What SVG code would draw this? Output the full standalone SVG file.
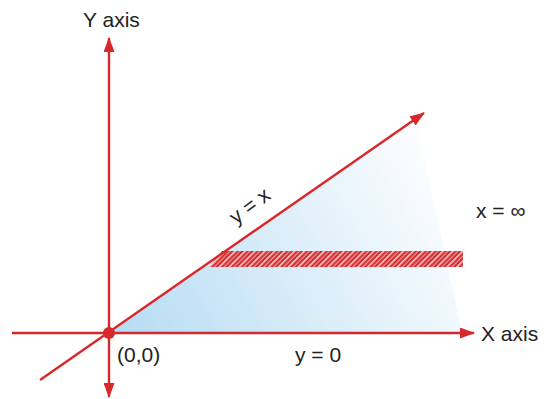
<svg xmlns="http://www.w3.org/2000/svg" width="549" height="399" viewBox="0 0 549 399">
<style>
.ax{stroke:#d7282b;stroke-width:2.4;fill:none}
.t{font-family:"Liberation Sans",Arial,sans-serif;font-size:21px;fill:#222}
</style>
<defs>
<marker id="ah" viewBox="0 0 15 11" refX="14" refY="5.5" markerWidth="15" markerHeight="11" markerUnits="userSpaceOnUse" orient="auto">
<path d="M0,0 L15,5.5 L0,11 Z" fill="#d7282b"/>
</marker>
<linearGradient id="g" x1="109" y1="333" x2="440" y2="140" gradientUnits="userSpaceOnUse">
<stop offset="0" stop-color="#b5dbf3"/>
<stop offset="1" stop-color="#ffffff"/>
</linearGradient>
<pattern id="h" width="7" height="7" patternUnits="userSpaceOnUse" patternTransform="rotate(45)">
<rect width="7" height="7" fill="#d7282b"/>
<rect x="0" y="0" width="1.6" height="7" fill="#f6d6d6"/>
<rect x="3.8" y="0" width="1" height="7" fill="#efb5b5"/>
</pattern>
</defs>
<g id="region">
<polygon points="109,333 416,120 462,333" fill="url(#g)"/>
</g>
<g id="band">
<polygon points="222,251 463,251 463,267 209,267" fill="url(#h)"/>
</g>
<g id="connectors">
<line class="ax" x1="12" y1="333" x2="474" y2="333" marker-end="url(#ah)"/>
<line class="ax" x1="109" y1="333" x2="109" y2="38" marker-end="url(#ah)"/>
<line class="ax" x1="109" y1="333" x2="109" y2="397" marker-end="url(#ah)"/>
<line class="ax" x1="40" y1="380" x2="424" y2="113" marker-end="url(#ah)"/>
</g>
<g id="origin">
<circle cx="109" cy="333" r="6" fill="#d7282b"/>
<text class="t" x="117" y="362">(0,0)</text>
</g>
<g id="labels">
<text class="t" x="83" y="27">Y axis</text>
<text class="t" x="481" y="341">X axis</text>
<text class="t" x="295" y="362">y = 0</text>
<text class="t" x="476" y="218">x = ∞</text>
<text class="t" transform="translate(236,225) rotate(-37)">y = x</text>
</g>
</svg>
